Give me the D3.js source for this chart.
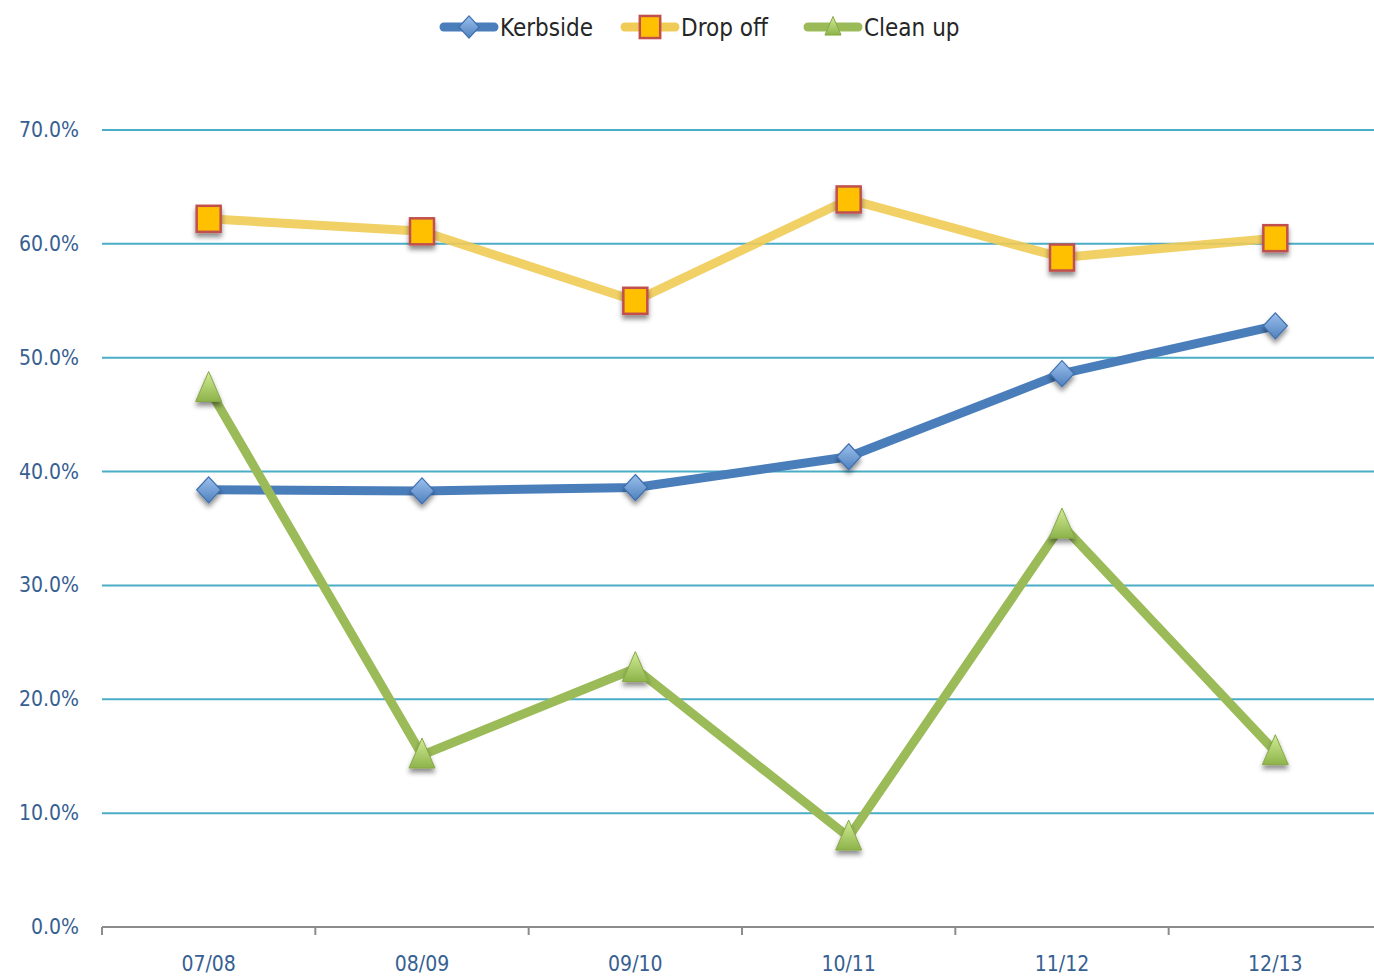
<!DOCTYPE html>
<html>
<head>
<meta charset="utf-8">
<script src="https://cdn.jsdelivr.net/npm/d3@7"></script>
<style>
  body { margin: 0; background: #fff; }
  text { font-family: "Liberation Sans Narrow", "DejaVu Sans Condensed", "Open Sans", sans-serif; }
</style>
</head>
<body>
<div class="chart"></div>
<script>
// chart data
const years = ["07/08", "08/09", "09/10", "10/11", "11/12", "12/13"];
const kerbside = [38.4, 38.3, 38.6, 41.3, 48.6, 52.8];
const dropOff = [62.2, 61.1, 55.0, 63.9, 58.8, 60.5];
const cleanUp = [47.3, 15.1, 22.7, 7.9, 35.3, 15.4];
const yTicks = [0, 10, 20, 30, 40, 50, 60, 70];

const widthOfSvg = 1374;
const heightOfSvg = 977;

const svg = d3.select(".chart")
  .append("svg")
  .attr("width", widthOfSvg)
  .attr("height", heightOfSvg);

const defs = svg.append("defs");
const shadow = defs.append("filter").attr("id", "shadow")
  .attr("x", "-50%").attr("y", "-50%").attr("width", "200%").attr("height", "200%");
shadow.append("feDropShadow")
  .attr("dx", 0).attr("dy", 4).attr("stdDeviation", 2.5)
  .attr("flood-color", "#000").attr("flood-opacity", 0.45);

function grad(id, top, bottom) {
  const g = defs.append("linearGradient").attr("id", id)
    .attr("x1", 0).attr("y1", 0).attr("x2", 0).attr("y2", 1);
  g.append("stop").attr("offset", "0%").attr("stop-color", top);
  g.append("stop").attr("offset", "100%").attr("stop-color", bottom);
}
grad("gBlue", "#9CC0EE", "#4F81BD");
grad("gGreen", "#D2EC96", "#8DB34A");

const xScale = d3.scaleBand().domain(years).range([102, 1382]);
const yScale = d3.scaleLinear().domain([0, 70]).range([927, 130]);
const cx = d => xScale(d) + xScale.bandwidth() / 2;

// gridlines
svg.append("g").selectAll("line")
  .data(yTicks.filter(d => d > 0))
  .enter().append("line")
  .attr("x1", 102).attr("x2", widthOfSvg)
  .attr("y1", d => yScale(d)).attr("y2", d => yScale(d))
  .attr("stroke", "#4BACC6").attr("stroke-width", 2);

// y labels
svg.append("g").selectAll("text")
  .data(yTicks)
  .enter().append("text")
  .attr("x", 79).attr("y", d => yScale(d) + 7)
  .attr("text-anchor", "end")
  .attr("font-size", 21)
  .attr("fill", "#376092")
  .text(d => d.toFixed(1) + "%");

// x axis
const gx = svg.append("g").attr("transform", "translate(0,927)");
gx.append("line").attr("x1", 102).attr("x2", widthOfSvg).attr("y1", 0).attr("y2", 0)
  .attr("stroke", "#8C8C8C").attr("stroke-width", 2);
gx.selectAll(".tk").data(years).enter().append("line")
  .attr("x1", d => xScale(d)).attr("x2", d => xScale(d))
  .attr("y1", 0).attr("y2", 8)
  .attr("stroke", "#8C8C8C").attr("stroke-width", 2);
gx.selectAll(".lb").data(years).enter().append("text")
  .attr("x", d => cx(d)).attr("y", 44)
  .attr("text-anchor", "middle")
  .attr("font-size", 21)
  .attr("fill", "#376092")
  .text(d => d);

const series = [
  { name: "Kerbside", values: kerbside, color: "#4A7EBB", opacity: 1, marker: "diamond" },
  { name: "Drop off", values: dropOff, color: "#F0CB55", opacity: 0.9, marker: "square" },
  { name: "Clean up", values: cleanUp, color: "#9BBB59", opacity: 1, marker: "triangle" }
];

function drawMarker(g, type, x, y, k) {
  k = k || 1;
  if (type === "diamond") {
    g.append("path")
      .attr("d", `M${x},${y - 13 * k}L${x + 12 * k},${y}L${x},${y + 13 * k}L${x - 12 * k},${y}Z`)
      .attr("fill", "url(#gBlue)").attr("stroke", "#3F6FAE").attr("stroke-width", 1.2)
      .attr("filter", "url(#shadow)");
  } else if (type === "square") {
    g.append("rect")
      .attr("x", x - 12 * k).attr("y", y - 13 * k).attr("width", 24 * k).attr("height", 26 * k)
      .attr("fill", "#FFC000").attr("stroke", "#C0504D").attr("stroke-width", 2.5)
      .attr("filter", "url(#shadow)");
  } else {
    g.append("path")
      .attr("d", `M${x},${y - 17 * k}L${x + 13 * k},${y + 13 * k}L${x - 13 * k},${y + 13 * k}Z`)
      .attr("fill", "url(#gGreen)").attr("stroke", "#86A846").attr("stroke-width", 1)
      .attr("filter", "url(#shadow)");
  }
}

const line = d3.line().x((d, i) => cx(years[i])).y(d => yScale(d));

series.forEach(s => {
  const g = svg.append("g");
  g.append("path")
    .datum(s.values)
    .attr("d", line)
    .attr("fill", "none")
    .attr("stroke", s.color)
    .attr("stroke-opacity", s.opacity)
    .attr("stroke-width", 9)
    .attr("stroke-linejoin", "round");
  s.values.forEach((v, i) => drawMarker(g, s.marker, cx(years[i]), yScale(v)));
});

// legend
const legendX = [440, 621, 804];
series.forEach((s, i) => {
  const g = svg.append("g").attr("transform", `translate(${legendX[i]},27)`);
  g.append("line").attr("x1", 4).attr("x2", 54).attr("y1", 0).attr("y2", 0)
    .attr("stroke", s.color).attr("stroke-width", 9).attr("stroke-linecap", "round");
  drawMarker(g, s.marker, 29, s.marker === "triangle" ? 0 : 0, s.marker === "triangle" ? 0.62 : 0.85);
  g.selectAll("*").attr("filter", null);
  g.append("text")
    .attr("x", 60).attr("y", 9)
    .attr("font-size", 24)
    .attr("fill", "#262626")
    .text(s.name);
});
</script>
</body>
</html>
